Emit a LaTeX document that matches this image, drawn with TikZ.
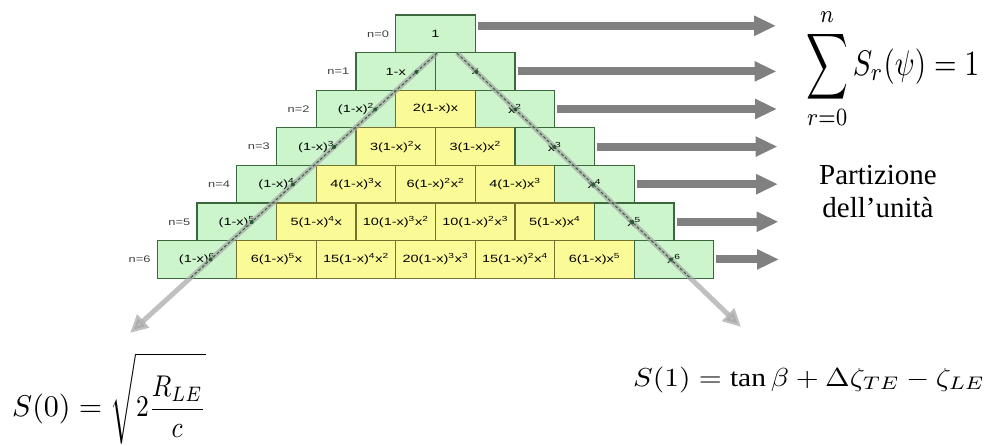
\documentclass[tikz,border=0pt]{standalone}
\usepackage{fontspec}
\usepackage{amsmath}
\setmainfont{Liberation Serif}
\newfontfamily\boxfont{Liberation Sans}
\usetikzlibrary{arrows.meta,calc}
\definecolor{gfill}{RGB}{204,245,204}
\definecolor{gdraw}{RGB}{60,105,60}
\definecolor{yfill}{RGB}{250,250,150}
\definecolor{ydraw}{RGB}{115,115,45}
\definecolor{arrgray}{RGB}{128,128,128}
\definecolor{diaggray}{RGB}{165,165,165}
\definecolor{dotgreen}{RGB}{40,90,50}
\tikzset{
 brickbase/.style={minimum width=79.5pt, minimum height=37.6pt, inner sep=0pt, line width=1.1pt, font=\boxfont\fontsize{10.5}{12}\selectfont},
 gbrick/.style={brickbase, fill=gfill, draw=gdraw},
 ybrick/.style={brickbase, fill=yfill, draw=ydraw},
 nlabel/.style={font=\boxfont\fontsize{9.5}{11}\selectfont, text=black!75, inner sep=0pt, anchor=east},
 rowarrow/.style={draw=arrgray, line width=8pt, -{Triangle[length=22pt,width=19pt]}},
 diagarrow/.style={draw=diaggray, line width=5pt, opacity=0.7, -{Triangle[length=18pt,width=17pt]}},
 diagdash/.style={draw=dotgreen, line width=0.9pt, dash pattern=on 3pt off 2pt},
 ddot/.style={circle, fill=dotgreen, inner sep=0pt, minimum size=4pt},
 formula/.style={inner sep=0pt},
}
\newcommand\mybrick[4]{\node[#3] (b#1#2) at ({435.5+(#2-#1/2)*79.5},{33.8+37.6*#1}) {\scalebox{1.38}[1]{#4}};}
\newcommand\sq[1]{\textsuperscript{#1}}
\begin{document}
\begin{tikzpicture}[x=1pt,y=-1pt]
\useasboundingbox (0,0) rectangle (991,446);
% row 0
\mybrick{0}{0}{gbrick}{1}
% row 1
\mybrick{1}{0}{gbrick}{1-x}
\mybrick{1}{1}{gbrick}{x}
% row 2
\mybrick{2}{0}{gbrick}{(1-x)\sq{2}}
\mybrick{2}{1}{ybrick}{2(1-x)x}
\mybrick{2}{2}{gbrick}{x\sq{2}}
% row 3
\mybrick{3}{0}{gbrick}{(1-x)\sq{3}}
\mybrick{3}{1}{ybrick}{3(1-x)\sq{2}x}
\mybrick{3}{2}{ybrick}{3(1-x)x\sq{2}}
\mybrick{3}{3}{gbrick}{x\sq{3}}
% row 4
\mybrick{4}{0}{gbrick}{(1-x)\sq{4}}
\mybrick{4}{1}{ybrick}{4(1-x)\sq{3}x}
\mybrick{4}{2}{ybrick}{6(1-x)\sq{2}x\sq{2}}
\mybrick{4}{3}{ybrick}{4(1-x)x\sq{3}}
\mybrick{4}{4}{gbrick}{x\sq{4}}
% row 5
\mybrick{5}{0}{gbrick}{(1-x)\sq{5}}
\mybrick{5}{1}{ybrick}{5(1-x)\sq{4}x}
\mybrick{5}{2}{ybrick}{10(1-x)\sq{3}x\sq{2}}
\mybrick{5}{3}{ybrick}{10(1-x)\sq{2}x\sq{3}}
\mybrick{5}{4}{ybrick}{5(1-x)x\sq{4}}
\mybrick{5}{5}{gbrick}{x\sq{5}}
% row 6
\mybrick{6}{0}{gbrick}{(1-x)\sq{6}}
\mybrick{6}{1}{ybrick}{6(1-x)\sq{5}x}
\mybrick{6}{2}{ybrick}{15(1-x)\sq{4}x\sq{2}}
\mybrick{6}{3}{ybrick}{20(1-x)\sq{3}x\sq{3}}
\mybrick{6}{4}{ybrick}{15(1-x)\sq{2}x\sq{4}}
\mybrick{6}{5}{ybrick}{6(1-x)x\sq{5}}
\mybrick{6}{6}{gbrick}{x\sq{6}}
% row labels
\foreach \k in {0,...,6}{
  \node[nlabel] (n\k) at ([xshift=-6pt]b\k0.west) {\scalebox{1.35}[1]{n=\k}};
}
% row arrows
\coordinate (e0) at (776,25.8);
\draw[rowarrow] ([xshift=2pt]b00.east |- e0) -- (e0);
\foreach \k in {1,...,6}{
  \coordinate (e\k) at ({776+0.5*\k},{33.8+37.6*\k});
  \draw[rowarrow] ([xshift=2pt]b\k\k.east) -- (e\k);
}
% diagonals
\coordinate (Ls) at ([xshift=1.5pt]b00.south);
\coordinate (Le) at (130,333);
\coordinate (Rs) at ([xshift=21.5pt]b00.south);
\coordinate (Re) at (741,327);
\draw[diagarrow] (Ls) -- (Le);
\draw[diagarrow] (Rs) -- (Re);
\draw[diagdash] (Ls) -- ($(Ls)!0.804!(Le)$);
\draw[diagdash] (Rs) -- ($(Rs)!0.82!(Re)$);
\foreach \k in {1,...,6}{
  \node[ddot] (dl\k) at ($(Ls)!{(37.6*\k-18.8)/280.4}!(Le)$) {};
  \node[ddot] (dr\k) at ($(Rs)!{(37.6*\k-18.8)/274.4}!(Re)$) {};
}
% formulas
\node[formula, anchor=north west] (sum) at (806,8) {\scalebox{2.9}[3.55]{$\mathop{\vcenter{\hbox{\scalebox{1}[1.3]{$\displaystyle\sum$}}}}\limits_{r=0}^{n} S_r(\psi)=1$}};
\node[formula, font=\fontsize{29}{33}\selectfont, align=center, anchor=base] (part) at (878,218) {Partizione\\dell'unità};
\node[formula, anchor=base west] (s0) at (12,417) {\scalebox{3.0}[3.0]{$S(0)=\scalebox{0.85}[1]{$\sqrt{2\dfrac{R_{LE}}{c}\rule[-9pt]{0pt}{29pt}}$}$}};
\node[formula, anchor=base west] (s1) at (633,386) {\scalebox{2.95}[2.6]{$S(1)=\tan\beta+\Delta\zeta_{TE}-\zeta_{LE}$}};
\end{tikzpicture}
\end{document}
